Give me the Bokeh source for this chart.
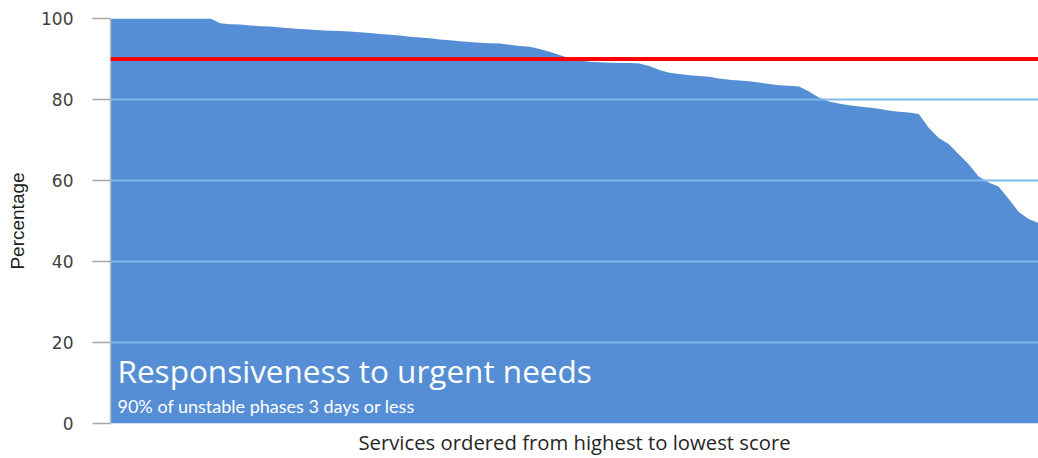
from bokeh.plotting import figure
from bokeh.models import Range1d, FixedTicker, Span, Label
from bokeh.embed import file_html
from bokeh.resources import INLINE

# Scores of services, ordered from highest to lowest
scores = [
    100.0, 100.0, 100.0, 100.0, 100.0, 100.0, 100.0, 100.0, 100.0, 100.0, 100.0,
    98.8, 98.6, 98.5, 98.3, 98.1, 98.0, 97.8, 97.6, 97.4, 97.3, 97.1, 97.0,
    96.9, 96.8, 96.6, 96.4, 96.2, 96.0, 95.8, 95.5, 95.3, 95.1, 94.8, 94.6,
    94.4, 94.2, 94.0, 93.9, 93.8, 93.5, 93.2, 93.0, 92.5, 91.8, 91.0, 90.2,
    89.6, 89.3, 89.2, 89.1, 89.0, 89.0, 88.9, 88.3, 87.3, 86.6, 86.3, 86.0,
    85.8, 85.6, 85.2, 84.9, 84.7, 84.5, 84.2, 83.8, 83.5, 83.4, 83.2, 82.0,
    80.5, 79.5, 79.0, 78.6, 78.3, 78.0, 77.7, 77.3, 77.0, 76.8, 76.4, 73.0,
    70.5, 69.0, 66.5, 64.0, 61.0, 59.5, 58.5, 55.5, 52.3, 50.5, 49.5,
]
ranks = list(range(len(scores)))
target = 90
y_ticks = [0, 20, 40, 60, 80, 100]
title_text = "Responsiveness to urgent needs"
subtitle_text = "90% of unstable phases 3 days or less"
x_label = "Services ordered from highest to lowest score"
y_label = "Percentage"

p = figure(width=1038, height=458, output_backend="svg", toolbar_location=None,
           x_range=Range1d(0, len(scores) - 1), y_range=Range1d(0, 100),
           min_border_left=110, min_border_right=0, min_border_top=18,
           min_border_bottom=33)
p.outline_line_color = None
p.background_fill_color = "white"
p.border_fill_color = "white"

p.varea(x=ranks, y1=0, y2=scores, fill_color="#558ED5")

p.add_layout(Span(location=target, dimension="width", line_color="#FF0000",
                  line_width=4))

# grids
p.xgrid.visible = False
p.ygrid.ticker = FixedTicker(ticks=y_ticks)
p.ygrid.grid_line_color = "#7DBBEA"
p.ygrid.grid_line_width = 2
p.ygrid.level = "overlay"

# y axis
p.yaxis.ticker = FixedTicker(ticks=y_ticks)
p.yaxis.axis_line_color = "#BFBFBF"
p.yaxis.axis_line_width = 1.5
p.yaxis.major_tick_line_color = "#A6A6A6"
p.yaxis.major_tick_line_width = 1.5
p.yaxis.major_tick_out = 18
p.yaxis.major_tick_in = 0
p.yaxis.minor_tick_line_color = None
p.yaxis.major_label_standoff = 19
p.yaxis.major_label_text_font = "DejaVu Sans"
p.yaxis.major_label_text_font_size = "17px"
p.yaxis.major_label_text_color = "#404040"
p.yaxis.axis_label = y_label
p.yaxis.axis_label_text_font = "Liberation Sans"
p.yaxis.axis_label_text_font_style = "normal"
p.yaxis.axis_label_text_font_size = "19px"
p.yaxis.axis_label_text_color = "#202020"
p.yaxis.axis_label_standoff = 10

# x axis
p.xaxis.ticker = FixedTicker(ticks=[])
p.xaxis.axis_line_color = None
p.xaxis.major_tick_line_color = None
p.xaxis.minor_tick_line_color = None
p.xaxis.axis_label = x_label
p.xaxis.axis_label_text_font = "Open Sans"
p.xaxis.axis_label_text_font_style = "normal"
p.xaxis.axis_label_text_font_size = "20.3px"
p.xaxis.axis_label_text_color = "#262626"
p.xaxis.axis_label_standoff = 4

p.add_layout(Label(x=0.7, y=13.2, text=title_text, text_color="white",
                   text_font="Open Sans", text_font_size="31.5px",
                   text_baseline="alphabetic"))
p.add_layout(Label(x=0.7, y=4.2, text=subtitle_text, text_color="white",
                   text_font="Lato", text_font_size="18px",
                   text_baseline="alphabetic"))

open("out.html", "w").write(file_html(p, INLINE))
